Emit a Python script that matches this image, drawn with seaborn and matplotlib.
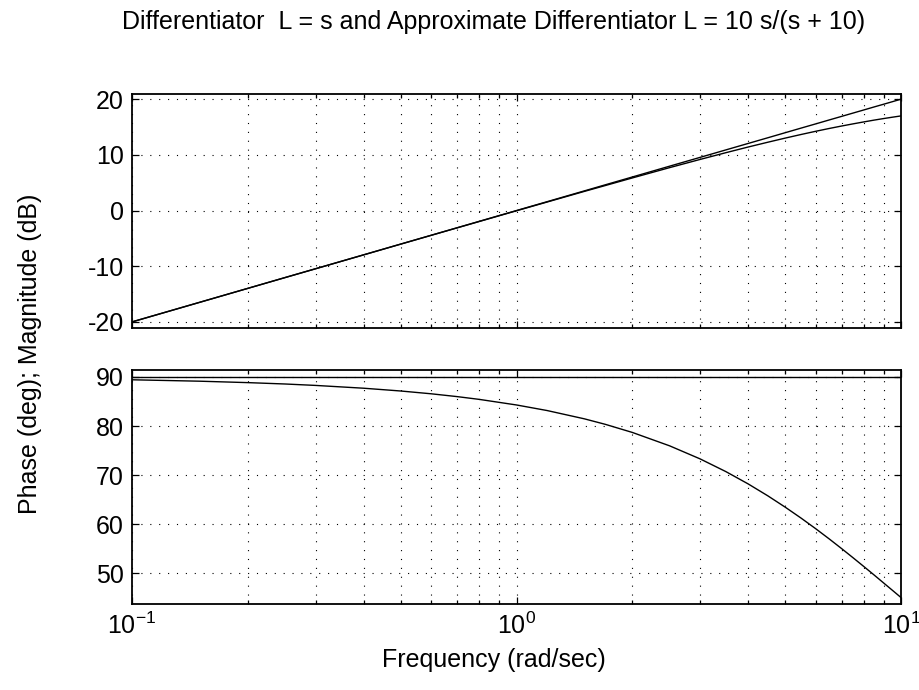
import matplotlib
matplotlib.use('Agg')
import matplotlib.pyplot as plt
import matplotlib.ticker as mticker
import numpy as np
import pandas as pd
import seaborn as sns

# -------------------------
# Data
# -------------------------
freq = [0.1, 0.15, 0.2, 0.25, 0.3, 0.4, 0.5, 0.6, 0.7, 0.8, 1.0, 1.2, 1.5, 1.7, 2.0,
        2.5, 3.0, 3.5, 4.0, 4.5, 5.0, 5.5, 6.0, 6.5, 7.0, 7.5, 8.0, 8.5, 9.0, 9.5, 10.0]
mag_diff = [-20.0, -16.48, -13.98, -12.04, -10.46, -7.96, -6.02, -4.44, -3.10, -1.94,
            0.0, 1.58, 3.52, 4.61, 6.02, 7.96, 9.54, 10.88, 12.04, 13.06, 13.98,
            14.81, 15.56, 16.26, 16.90, 17.50, 18.06, 18.59, 19.08, 19.55, 20.0]
mag_approx = [-20.0, -16.48, -13.98, -12.04, -10.46, -7.97, -6.03, -4.45, -3.12, -1.97,
              -0.04, 1.52, 3.43, 4.48, 5.85, 7.70, 9.17, 10.38, 11.40, 12.26, 13.01,
              13.66, 14.23, 14.73, 15.17, 15.56, 15.91, 16.23, 16.51, 16.76, 16.99]
phase_diff = [90.0] * len(freq)
phase_approx = [89.43, 89.14, 88.85, 88.57, 88.28, 87.71, 87.14, 86.57, 86.00, 85.43,
                84.29, 83.16, 81.47, 80.35, 78.69, 75.96, 73.30, 70.71, 68.20, 65.77,
                63.43, 61.19, 59.04, 56.98, 55.01, 53.13, 51.34, 49.64, 48.01, 46.47, 45.00]

mag_ticks = [-20, -10, 0, 10, 20]
phase_ticks = [50, 60, 70, 80, 90]

title_text = "Differentiator  L = s and Approximate Differentiator L = 10 s/(s + 10)"
ylabel_text = "Phase (deg); Magnitude (dB)"
xlabel_text = "Frequency (rad/sec)"

# -------------------------
# Style
# -------------------------
sns.set_theme(style="white")
plt.rcParams['font.family'] = ['Liberation Sans', 'DejaVu Sans']
plt.rcParams['mathtext.fontset'] = 'custom'
plt.rcParams['mathtext.rm'] = 'Liberation Sans'
plt.rcParams['mathtext.it'] = 'Liberation Sans'
plt.rcParams['text.color'] = 'black'
plt.rcParams['xtick.color'] = 'black'
plt.rcParams['ytick.color'] = 'black'
FS = 18

mag_df = pd.DataFrame({
    "freq": freq * 2,
    "value": mag_diff + mag_approx,
    "system": ["diff"] * len(freq) + ["approx"] * len(freq),
})
phase_df = pd.DataFrame({
    "freq": freq * 2,
    "value": phase_diff + phase_approx,
    "system": ["diff"] * len(freq) + ["approx"] * len(freq),
})

fig = plt.figure(figsize=(9.2, 6.9), dpi=100)
ax1 = fig.add_axes([0.1435, 0.5246, 0.836, 0.339])
ax2 = fig.add_axes([0.1435, 0.1246, 0.836, 0.339])

for ax, df, ticks, ylim in [
    (ax1, mag_df, mag_ticks, (-21.1, 20.9)),
    (ax2, phase_df, phase_ticks, (43.7, 91.4)),
]:
    sns.lineplot(data=df, x="freq", y="value", units="system", estimator=None,
                 sort=False, color="black", linewidth=1.0, ax=ax, legend=False)
    ax.set_xscale("log")
    ax.set_xlim(0.1, 10)
    ax.set_ylim(*ylim)
    ax.set_yticks(ticks)
    ax.set_yticklabels([str(t) for t in ticks], fontsize=FS)
    ax.xaxis.set_minor_locator(mticker.LogLocator(base=10, subs=np.arange(2, 10)))
    ax.xaxis.set_minor_formatter(mticker.NullFormatter())
    ax.set_xlabel("")
    ax.set_ylabel("")
    grid_kw = dict(color="black", linestyle=(0, (1, 7)), linewidth=0.8)
    ax.grid(True, which="major", axis="both", **grid_kw)
    ax.grid(True, which="minor", axis="x", **grid_kw)
    ax.tick_params(which="both", direction="in", top=True, right=True,
                   bottom=True, left=True, colors="black", labelcolor="black",
                   labelsize=FS)
    ax.tick_params(which="major", length=5, width=0.9)
    ax.tick_params(which="minor", length=3, width=0.9)
    ax.tick_params(axis="y", pad=6)
    ax.tick_params(axis="x", pad=6)
    for sp in ax.spines.values():
        sp.set_color("black")
        sp.set_linewidth(1.3)

ax1.tick_params(labelbottom=False)

fig.text(0.537, 0.968, title_text, ha="center", va="center", fontsize=FS, color="black")
fig.text(0.033, 0.487, ylabel_text, ha="center", va="center", rotation=90,
         fontsize=FS, color="black")
fig.text(0.537, 0.043, xlabel_text, ha="center", va="center", fontsize=FS, color="black")

fig.savefig("out.png", dpi=100)
